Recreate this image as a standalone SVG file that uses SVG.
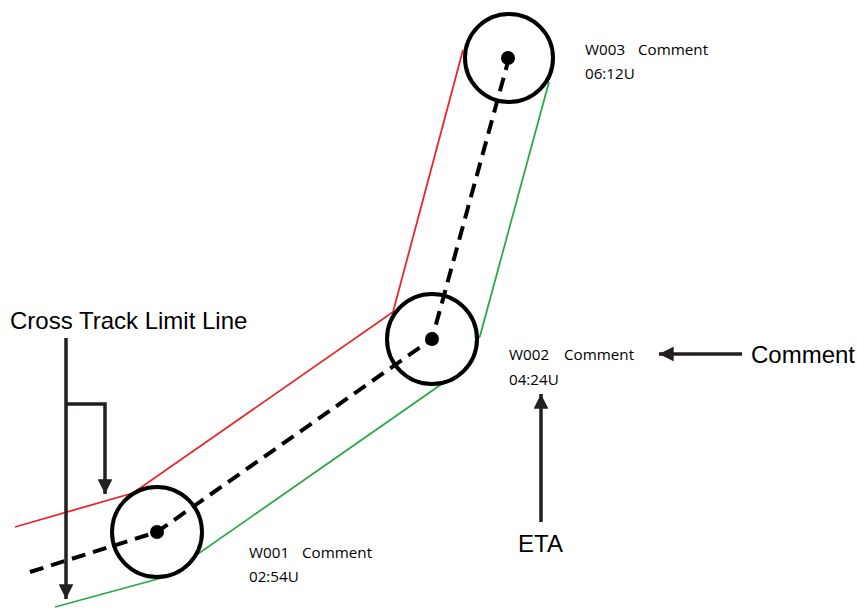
<svg xmlns="http://www.w3.org/2000/svg" width="857" height="610" viewBox="0 0 857 610">
<defs>
<style>
.lbl{font-family:"Liberation Sans",Arial,sans-serif;font-size:24px;fill:#000}
.wp{font-family:"Open Sans","Noto Sans",sans-serif;font-size:15.2px;fill:#000}
.ring{fill:#fff;stroke:#000;stroke-width:4}
.dot{fill:#000}
.arr{fill:none;stroke:#231f20;stroke-width:3.5}
</style>
<marker id="ah" viewBox="0 0 10 10" refX="10" refY="5" markerWidth="4.2" markerHeight="4.2" markerUnits="strokeWidth" orient="auto">
<path d="M0,0 L10,5 L0,10 Z" fill="#231f20"/>
</marker>
</defs>
<rect width="857" height="610" fill="#fff"/>
<g id="limits">
<polyline points="15,527 133,493 393,312 463,50" fill="none" stroke="#e8262b" stroke-width="1.8"/>
<polyline points="55,607 165,577 446,381 480,336 549,82" fill="none" stroke="#2ca74a" stroke-width="1.8"/>
</g>
<g id="w001"><circle class="ring" cx="157" cy="532" r="45"/></g>
<g id="w002"><circle class="ring" cx="432" cy="339" r="45"/></g>
<g id="w003"><circle class="ring" cx="509" cy="58" r="44"/></g>
<g id="connectors">
<polyline points="30,572 157,532 432,339 509,58" fill="none" stroke="#000" stroke-width="4" stroke-dasharray="14,8"/>
<path class="arr" d="M66,338 V599" marker-end="url(#ah)"/>
<path class="arr" d="M66,404 H105 V494" marker-end="url(#ah)"/>
<path class="arr" d="M742,354 H659" marker-end="url(#ah)"/>
<path class="arr" d="M541,522 V394" marker-end="url(#ah)"/>
</g>
<g id="dots">
<circle class="dot" cx="157" cy="532" r="7"/>
<circle class="dot" cx="432" cy="339" r="7"/>
<circle class="dot" cx="508" cy="58" r="7"/>
</g>
<g id="labels">
<text class="lbl" x="10" y="329">Cross Track Limit Line</text>
<text class="lbl" x="751" y="363">Comment</text>
<text class="lbl" x="518" y="552">ETA</text>
<text class="wp" x="249" y="558">W001<tspan x="302">Comment</tspan></text>
<text class="wp" x="249" y="582">02:54U</text>
<text class="wp" x="509" y="360">W002<tspan x="564">Comment</tspan></text>
<text class="wp" x="509" y="385">04:24U</text>
<text class="wp" x="585" y="55">W003<tspan x="638">Comment</tspan></text>
<text class="wp" x="585" y="79">06:12U</text>
</g>
</svg>
